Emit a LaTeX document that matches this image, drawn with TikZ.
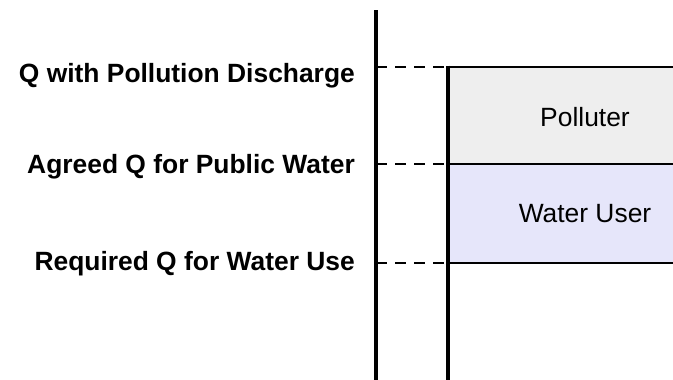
\documentclass[tikz,border=0pt]{standalone}
\usepackage{fontspec}
\setmainfont{Liberation Sans}
\usetikzlibrary{positioning,calc}
\definecolor{polluterfill}{HTML}{EEEEEE}
\definecolor{userfill}{HTML}{E6E6FA}
\tikzset{
    axisline/.style={line width=4pt, black},
    levelline/.style={line width=2.6pt, black},
    guideline/.style={line width=2.5pt, black, dash pattern=on 10.5pt off 8.5pt},
    qlabel/.style={anchor=base east, inner sep=0pt, font=\fontsize{26.4}{30}\selectfont\bfseries},
    share/.style={inner sep=0pt, font=\fontsize{26.4}{30}\selectfont}
}

\begin{document}
\begin{tikzpicture}[x=1pt, y=-1pt]
        \useasboundingbox (0,0) rectangle (673,380);

        % levels on the axis and on the box edge
        \coordinate (axtop) at (376,10);
        \coordinate (axbot) at (376,380);
        \coordinate (qpoll) at (376,67);
        \coordinate (qpub) at (376,164);
        \coordinate (quse) at (376,263);
        \coordinate (bpoll) at (447.5,67);
        \coordinate (bpub) at (447.5,164);
        \coordinate (buse) at (447.5,263);
        \coordinate (bbot) at (447.5,380);

        % shares
        \fill[polluterfill] (bpoll) rectangle (673,164);
        \fill[userfill] (bpub) rectangle (673,263);
        \node[share] (polluter) at (585,117) {Polluter};
        \node[share] (user) at (585,214) {Water User};

        % labels
        \node[qlabel] (lpoll) at (355,82) {Q with Pollution Discharge};
        \node[qlabel] (lpub) at (355,173) {Agreed Q for Public Water};
        \node[qlabel] (luse) at (355,270) {Required Q for Water Use};

        \draw[guideline] (qpoll) -- (bpoll);
        \draw[guideline] (qpub) -- (bpub);
        \draw[guideline] (quse) -- (buse);

        \draw[levelline] (bpoll) -- (bpoll -| 673,0);
        \draw[levelline] (bpub) -- (bpub -| 673,0);
        \draw[levelline] (buse) -- (buse -| 673,0);

        \draw[axisline] (axtop) -- (axbot);
        \draw[axisline] ($(bpoll)+(0,-1.3)$) -- (bbot);
    \end{tikzpicture}
\end{document}
